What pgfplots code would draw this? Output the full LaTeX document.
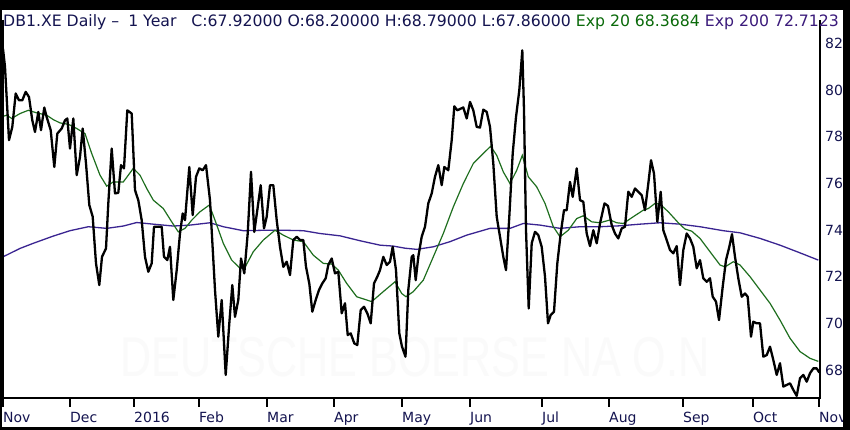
\documentclass[border=0pt]{standalone}
\usepackage{fontspec}
\setmainfont{DejaVu Sans}
\newfontfamily\wmfont{Liberation Sans}
\usepackage{pgfplots}
\pgfplotsset{compat=1.18}
\definecolor{hnavy}{RGB}{20,20,80}
\definecolor{hgreen}{RGB}{10,106,10}
\definecolor{hpurple}{RGB}{59,27,123}
\definecolor{emagreen}{RGB}{30,110,30}
\definecolor{emapurple}{RGB}{58,36,145}
\definecolor{wm}{RGB}{250,250,250}
\begin{document}
\begin{tikzpicture}
\useasboundingbox (0,0) rectangle (850bp,430bp);
\clip (0,0) rectangle (850bp,430bp);
\fill[white] (0,0) rectangle (850bp,430bp);
\node[wm, font=\wmfont\fontsize{56bp}{60bp}\selectfont, xscale=0.77, inner sep=0pt] at (415bp,73bp) {DEUTSCHE BOERSE NA O.N};
\begin{axis}[
  at={(3bp,32bp)}, anchor=south west,
  scale only axis, width=817bp, height=378bp,
  xmin=3, xmax=820, ymin=66.8, ymax=83.0,
  axis lines=none,
  xtick={3,70,134,199,267,334,402,470,542,609,683,753,818},
  xticklabels={Nov,Dec,2016,Feb,Mar,Apr,May,Jun,Jul,Aug,Sep,Oct,Nov},
  clip=false,
]
% EMA 200
\addplot[emapurple, line width=1.3bp] coordinates {
(3,72.85)(20,73.21)(33.3,73.43)(53.3,73.74)(70,73.97)(88.3,74.14)(106.7,74.07)(123.3,74.17)(136.7,74.32)(153.3,74.25)(173.3,74.17)(190,74.21)(210,74.31)(223.3,74.14)(243.3,73.97)(266.7,73.99)(283.3,73.99)(303.3,73.97)(320,73.85)(340,73.75)(360,73.54)(380,73.35)(393.3,73.31)(405,73.22)(416.7,73.17)(433.3,73.28)(450,73.50)(466.7,73.78)(490,74.07)(510,74.07)(523.3,74.28)(540,74.21)(560,74.07)(580,74.14)(600,74.14)(620,74.18)(640,74.25)(660,74.31)(680,74.25)(700,74.14)(723.3,73.97)(740,73.88)(760,73.64)(780,73.35)(800,73.02)(818.3,72.71)
};
% EMA 20
\addplot[emagreen, line width=1.2bp] coordinates {
(3,78.87)(6.7,78.92)(11.7,78.78)(20,78.99)(28.3,79.13)(36.7,79.02)(46.7,78.92)(53.3,78.73)(60,78.59)(68.3,78.53)(76.7,78.35)(85,78.13)(91.7,77.28)(100,76.35)(106.7,75.88)(113.3,76.06)(123.3,76.06)(128.3,76.35)(133.3,76.64)(140,76.35)(146.7,75.78)(153.3,75.28)(163.3,74.92)(171.7,74.35)(178.3,73.92)(185,74.07)(191.7,74.42)(200,74.78)(209.3,75.07)(215,74.42)(223.3,73.43)(231.7,72.71)(240,72.36)(245,72.40)(253.3,73.07)(263.3,73.57)(275,73.99)(283.3,73.78)(293.3,73.57)(303.3,73.50)(313.3,72.92)(323.3,72.57)(331.7,72.54)(338.3,72.28)(346.7,71.71)(356.7,71.14)(371.7,70.93)(383.3,71.36)(395,71.78)(401.7,71.28)(406,71.14)(413.3,71.36)(423.3,71.85)(433.3,72.85)(443.3,73.85)(453.3,74.99)(463.3,75.99)(473.3,76.85)(483.3,77.28)(490.7,77.59)(496.7,77.20)(503.3,76.49)(510,75.99)(516.7,76.56)(522.3,77.20)(528.3,76.28)(536.7,75.85)(545,75.14)(553.3,74.14)(560,73.71)(568.3,73.99)(576.7,74.49)(583.3,74.61)(591.7,74.35)(600,74.31)(610,74.43)(616.7,74.31)(623.3,74.28)(633.3,74.57)(643.3,74.85)(648.3,74.92)(655,75.14)(660,75.11)(668.3,74.78)(678.3,74.31)(685,74.04)(691.7,73.95)(700,73.64)(710,73.07)(720,72.50)(725,72.42)(733.3,72.64)(740,72.50)(750,72.00)(760,71.43)(770,70.86)(780,70.14)(790,69.36)(800,68.79)(810,68.50)(818.3,68.37)
};
% Price
\addplot[black, line width=2.3bp, line join=round] coordinates {
(3,81.77)(5,80.99)(9,77.85)(12.3,78.42)(15.7,79.85)(19,79.56)(22.3,79.56)(25.7,79.92)(29,79.70)(32.3,78.70)(35,78.20)(38.3,79.06)(41,78.28)(44.3,79.25)(46.7,78.84)(50.7,78.28)(54.3,76.70)(57.3,78.13)(61.7,78.35)(65,78.70)(67.3,78.78)(70,77.49)(73.3,78.78)(76.7,76.35)(80,77.13)(82.7,78.35)(86,76.85)(89.3,75.07)(92.7,74.57)(96,72.57)(99.3,71.64)(102,72.85)(106,73.21)(108.3,75.14)(111.7,77.49)(115,75.57)(118.3,75.59)(121,76.78)(124,76.64)(127.3,79.13)(131.7,78.99)(135,75.71)(138.3,75.28)(141.7,74.42)(145,72.85)(148.3,72.21)(151.7,72.57)(154,74.14)(158.3,74.14)(161.7,74.14)(164,72.85)(167.3,72.71)(170,73.28)(173.3,71.00)(176.7,72.28)(180,73.85)(182.7,74.71)(185,74.42)(189.3,76.70)(192.7,74.64)(196,76.28)(199.3,76.64)(202.7,76.56)(206,76.78)(210,75.28)(215,71.43)(218.3,69.43)(221.7,71.00)(225.7,67.79)(229.3,70.00)(232.3,71.64)(235,70.28)(238.3,71.00)(241,72.78)(244.3,72.14)(247.7,73.85)(251,76.49)(254.3,73.92)(257.3,74.85)(260.7,75.92)(264,74.07)(266.7,74.57)(270,75.92)(273.3,75.92)(276.7,74.42)(280,73.28)(283.3,72.42)(286.7,72.64)(290,72.07)(293.3,73.57)(296.7,73.71)(300,73.57)(303.3,73.57)(306,72.42)(309.3,71.71)(312.3,70.50)(315.7,71.00)(319,71.43)(322.3,71.71)(325.7,71.93)(328.3,72.50)(331.7,72.78)(335,72.14)(338.3,72.21)(341.7,70.43)(345,70.86)(347.7,69.50)(350.7,69.57)(354.3,69.14)(357.3,69.07)(360.7,70.57)(364,70.71)(367.3,70.43)(370.7,70.00)(374,71.71)(377.3,72.00)(380,72.28)(383.3,72.85)(386.7,72.50)(390,72.64)(392.7,73.28)(396,72.28)(399.3,69.57)(402,69.00)(405.5,68.57)(408.3,71.43)(411.7,72.85)(413.3,72.92)(415.7,71.85)(418.3,72.85)(421.7,73.71)(425,74.14)(428.3,75.14)(431.7,75.57)(435,76.28)(438.3,76.78)(441.7,75.92)(444.3,76.70)(448.3,76.56)(451.7,77.85)(454.3,79.30)(457.3,79.13)(460.7,79.20)(463.3,79.25)(466.7,78.78)(470,79.49)(473.3,79.13)(476.7,78.42)(480,78.39)(483.3,79.16)(486.7,79.06)(490,78.42)(493.3,76.85)(496.7,74.57)(500,73.71)(503.3,72.85)(506,72.28)(509.3,74.57)(512.7,77.28)(516,78.84)(519.3,79.99)(522.3,81.70)(524,79.13)(526,73.99)(528.7,70.64)(531.7,73.43)(535,73.92)(538.3,73.78)(541.7,73.28)(545,72.00)(548,70.00)(550.7,70.36)(554,70.50)(557.3,72.57)(560.7,73.85)(564,74.85)(566.7,74.85)(570,76.06)(572.7,75.42)(576.7,76.64)(580,75.28)(583.3,75.21)(586.7,73.85)(590,73.31)(593.3,73.99)(596.7,73.43)(600,74.28)(604.5,75.14)(608,75.03)(611.7,74.21)(615,73.85)(618.3,73.64)(621.7,74.07)(625,74.14)(628.3,75.64)(631.7,75.42)(635,75.78)(638.3,75.64)(641.7,75.49)(645,74.85)(648.3,75.99)(651,76.99)(654,76.42)(657.3,74.35)(660.7,75.64)(663.3,73.99)(666.7,73.57)(670,73.14)(673.3,73.00)(676.7,73.31)(680,71.64)(683.3,73.14)(686.7,73.85)(690,73.64)(693.3,73.28)(696.7,72.36)(700,72.71)(703.3,71.93)(706.7,71.78)(710,71.93)(712.7,71.14)(716,70.93)(719,70.14)(722.7,71.57)(726,72.71)(729.3,73.28)(732,73.82)(735,72.85)(738.3,71.93)(741.7,71.14)(745,71.28)(747.7,71.14)(751,69.43)(753.3,70.07)(756.7,70.00)(760,70.00)(763.3,68.57)(766.7,68.64)(770,69.00)(773.3,68.43)(776.7,67.79)(780,68.29)(783.3,67.29)(786.7,67.36)(790,67.43)(793.3,67.15)(796.7,66.89)(800,67.65)(803.3,67.79)(806.7,67.50)(810,67.86)(813.3,68.07)(816.7,68.07)(819.3,67.89)
};
% axis frame
\draw[black, line width=2bp] (rel axis cs:0,1) -- (rel axis cs:0,0) -- (rel axis cs:1,0) -- (rel axis cs:1,1);
% x ticks
\draw[black, line width=2bp]
  (axis cs:3,66.8) -- ([yshift=-9bp]axis cs:3,66.8)
  (axis cs:70,66.8) -- ([yshift=-9bp]axis cs:70,66.8)
  (axis cs:134,66.8) -- ([yshift=-9bp]axis cs:134,66.8)
  (axis cs:199,66.8) -- ([yshift=-9bp]axis cs:199,66.8)
  (axis cs:267,66.8) -- ([yshift=-9bp]axis cs:267,66.8)
  (axis cs:334,66.8) -- ([yshift=-9bp]axis cs:334,66.8)
  (axis cs:402,66.8) -- ([yshift=-9bp]axis cs:402,66.8)
  (axis cs:470,66.8) -- ([yshift=-9bp]axis cs:470,66.8)
  (axis cs:542,66.8) -- ([yshift=-9bp]axis cs:542,66.8)
  (axis cs:609,66.8) -- ([yshift=-9bp]axis cs:609,66.8)
  (axis cs:683,66.8) -- ([yshift=-9bp]axis cs:683,66.8)
  (axis cs:753,66.8) -- ([yshift=-9bp]axis cs:753,66.8)
  (axis cs:819,66.8) -- ([yshift=-9bp]axis cs:819,66.8);
\begin{scope}[every node/.style={anchor=base west, inner sep=0pt, text=hnavy, font=\fontsize{14bp}{16bp}\selectfont}]
\node at ([yshift=-24bp]axis cs:3,66.8) {Nov};
\node at ([yshift=-24bp]axis cs:70,66.8) {Dec};
\node at ([yshift=-24bp]axis cs:134,66.8) {2016};
\node at ([yshift=-24bp]axis cs:199,66.8) {Feb};
\node at ([yshift=-24bp]axis cs:267,66.8) {Mar};
\node at ([yshift=-24bp]axis cs:334,66.8) {Apr};
\node at ([yshift=-24bp]axis cs:402,66.8) {May};
\node at ([yshift=-24bp]axis cs:470,66.8) {Jun};
\node at ([yshift=-24bp]axis cs:542,66.8) {Jul};
\node at ([yshift=-24bp]axis cs:609,66.8) {Aug};
\node at ([yshift=-24bp]axis cs:683,66.8) {Sep};
\node at ([yshift=-24bp]axis cs:753,66.8) {Oct};
\node at ([yshift=-24bp]axis cs:819,66.8) {Nov};
\end{scope}
\begin{scope}[every node/.style={anchor=west, inner sep=0pt, text=hnavy, font=\fontsize{14bp}{16bp}\selectfont}]
\node at ([xshift=5bp]axis cs:820,82) {82};
\node at ([xshift=5bp]axis cs:820,80) {80};
\node at ([xshift=5bp]axis cs:820,78) {78};
\node at ([xshift=5bp]axis cs:820,76) {76};
\node at ([xshift=5bp]axis cs:820,74) {74};
\node at ([xshift=5bp]axis cs:820,72) {72};
\node at ([xshift=5bp]axis cs:820,70) {70};
\node at ([xshift=5bp]axis cs:820,68) {68};
\end{scope}
\end{axis}
\node[anchor=base west, inner sep=0pt, font=\fontsize{15.7bp}{18bp}\selectfont] at (3bp,403bp)
 {\textcolor{hnavy}{DB1.XE Daily –\hspace{9bp}1 Year\hspace{15bp}C:67.92000 O:68.20000 H:68.79000 L:67.86000} \textcolor{hgreen}{Exp 20 68.3684} \textcolor{hpurple}{Exp 200 72.7123}};
\fill[black] (0,420bp) rectangle (850bp,430bp);
\fill[black] (843bp,0) rectangle (850bp,430bp);
\fill[black] (0,0) rectangle (2bp,430bp);
\fill[black] (0,0) rectangle (850bp,3bp);
\end{tikzpicture}
\end{document}
